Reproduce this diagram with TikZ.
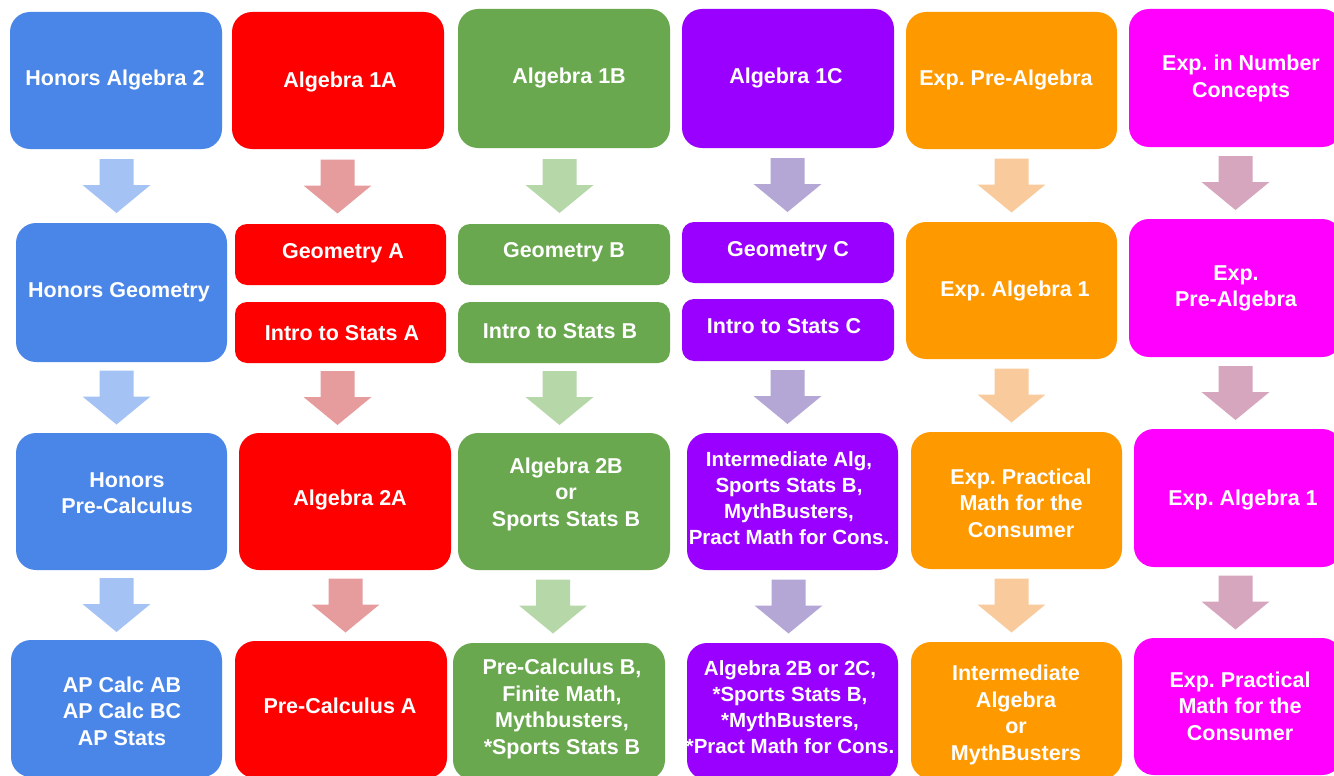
\documentclass[tikz,border=0pt]{standalone}
\usepackage{fontspec}
\setmainfont{Liberation Sans}
\usetikzlibrary{calc}
\frenchspacing
\definecolor{cblue}{HTML}{4A86E8}\definecolor{ablue}{HTML}{A4C2F4}
\definecolor{cred}{HTML}{FF0000}\definecolor{ared}{HTML}{E69C9C}
\definecolor{cgreen}{HTML}{6AA84F}\definecolor{agreen}{HTML}{B6D7A8}
\definecolor{cpurple}{HTML}{9900FF}\definecolor{apurple}{HTML}{B4A7D6}
\definecolor{corange}{HTML}{FF9900}\definecolor{aorange}{HTML}{F9CB9C}
\definecolor{cmag}{HTML}{FF00FF}\definecolor{amag}{HTML}{D5A6BD}
\tikzset{
  cbox/.style={rectangle, inner sep=0pt, draw=none},
  txt/.style={text=white, inner sep=0pt, align=center, font=\bfseries\frenchspacing\fontsize{21.5}{26.5}\selectfont},
  sl/.style={txt, text depth=0pt},
  txs/.style={txt, font=\bfseries\frenchspacing\fontsize{20.5}{26}\selectfont},
}
\newcommand\bx[7]{\node[cbox, fill=#6, rounded corners=#7, minimum width={#4-#2}, minimum height={#5-#3}] (#1) at ({(#2+#4)/2},{(#3+#5)/2}) {};}
\newcommand\barrow[4]{\path ($(#2.south)!0.5!(#3.north)$) ++(#1,0) coordinate (m);
  \fill[#4] (m) ++(-17,-27) -- ++(34,0) -- ++(0,26) -- ++(17,0) -- ++(-34,28) -- ++(-34,-28) -- ++(17,0) -- cycle;}
\begin{document}
\begin{tikzpicture}[x=1pt,y=-1pt]
\useasboundingbox (0,0) rectangle (1334,776);
\clip (0,0) rectangle (1334,776);
\fill[white] (0,0) rectangle (1334,776);
% column 1
\bx{b11}{10}{12}{222}{149}{cblue}{20pt}
\bx{b12}{16}{223}{227}{362}{cblue}{20pt}
\bx{b13}{16}{433}{227}{570}{cblue}{20pt}
\bx{b14}{11}{640}{222}{777}{cblue}{20pt}
\node[sl] (t11) at (115,78) {Honors Algebra 2};
\node[sl] (t12) at (119,290) {Honors Geometry};
\node[txt] (t13) at (127,493) {Honors\\Pre-Calculus};
\node[txt] (t14) at (122,711) {AP Calc AB\\AP Calc BC\\AP Stats};
\barrow{-2.25}{b11}{b12}{ablue}
\barrow{-5}{b12}{b13}{ablue}
\barrow{-2.5}{b13}{b14}{ablue}
% column 2
\bx{b21}{232}{12}{444}{149}{cred}{20pt}
\bx{b22}{235}{224}{446}{285}{cred}{12pt}
\bx{b22b}{235}{302}{446}{363}{cred}{12pt}
\bx{b23}{239}{433}{451}{570}{cred}{20pt}
\bx{b24}{235}{641}{447}{778}{cred}{20pt}
\node[sl] (t21) at (340,80) {Algebra 1A};
\node[sl] (t22) at (343,251) {Geometry A};
\node[sl] (t22b) at (342,333) {Intro to Stats A};
\node[sl] (t23) at (350,498) {Algebra 2A};
\node[sl] (t24) at (340,706) {Pre-Calculus A};
\barrow{-1.75}{b21}{b22}{ared}
\barrow{-5.25}{b22b}{b23}{ared}
\barrow{2.5}{b23}{b24}{ared}
% column 3
\bx{b31}{458}{9}{670}{148}{cgreen}{20pt}
\bx{b32}{458}{224}{670}{285}{cgreen}{12pt}
\bx{b32b}{458}{302}{670}{363}{cgreen}{12pt}
\bx{b33}{458}{433}{670}{570}{cgreen}{20pt}
\bx{b34}{453}{643}{665}{780}{cgreen}{20pt}
\node[sl] (t31) at (569,76) {Algebra 1B};
\node[sl] (t32) at (564,250) {Geometry B};
\node[sl] (t32b) at (560,331) {Intro to Stats B};
\node[txt] (t33) at (566,494) {Algebra 2B\\or\\Sports Stats B};
\node[txt] (t34) at (562,709) {Pre-Calculus B,\\Finite Math,\\Mythbusters,\\*Sports Stats B};
\barrow{-4.5}{b31}{b32}{agreen}
\barrow{-4.5}{b32b}{b33}{agreen}
\barrow{-8.5}{b33}{b34}{agreen}
% column 4
\bx{b41}{682}{9}{894}{148}{cpurple}{20pt}
\bx{b42}{682}{222}{894}{283}{cpurple}{12pt}
\bx{b42b}{682}{299}{894}{361}{cpurple}{12pt}
\bx{b43}{687}{433}{898}{570}{cpurple}{20pt}
\bx{b44}{687}{643}{898}{780}{cpurple}{20pt}
\node[sl] (t41) at (786,76) {Algebra 1C};
\node[sl] (t42) at (788,249) {Geometry C};
\node[sl] (t42b) at (784,326) {Intro to Stats C};
\node[txs] (t43) at (789,498) {Intermediate Alg,\\Sports Stats B,\\MythBusters,\\Pract Math for Cons.};
\node[txs] (t44) at (790,707) {Algebra 2B or 2C,\\*Sports Stats B,\\*MythBusters,\\*Pract Math for Cons.};
\barrow{-0.5}{b41}{b42}{apurple}
\barrow{-2.75}{b42b}{b43}{apurple}
\barrow{-4}{b43}{b44}{apurple}
% column 5
\bx{b51}{906}{12}{1117}{149}{corange}{20pt}
\bx{b52}{906}{222}{1117}{359}{corange}{20pt}
\bx{b53}{911}{432}{1122}{569}{corange}{20pt}
\bx{b54}{911}{642}{1122}{779}{corange}{20pt}
\node[sl] (t51) at (1006,78) {Exp. Pre-Algebra};
\node[sl] (t52) at (1015,289) {Exp. Algebra 1};
\node[txt] (t53) at (1021,503) {Exp. Practical\\Math for the\\Consumer};
\node[txt] (t54) at (1016,715) {Intermediate\\Algebra\\or\\MythBusters};
\barrow{0}{b51}{b52}{aorange}
\barrow{-2.5}{b52}{b53}{aorange}
\barrow{-5}{b53}{b54}{aorange}
% column 6
\bx{b61}{1129}{9}{1342}{147}{cmag}{20pt}
\bx{b62}{1129}{219}{1342}{357}{cmag}{20pt}
\bx{b63}{1134}{429}{1342}{567}{cmag}{20pt}
\bx{b64}{1134}{638}{1342}{775}{cmag}{20pt}
\node[txt] (t61) at (1241,78.5) {Exp. in Number\\Concepts};
\node[txt] (t62) at (1236,288.5) {Exp.\\Pre-Algebra};
\node[sl] (t63) at (1243,498) {Exp. Algebra 1};
\node[txt] (t64) at (1240,706) {Exp. Practical\\Math for the\\Consumer};
\barrow{0}{b61}{b62}{amag}
\barrow{-1.25}{b62}{b63}{amag}
\barrow{-2.5}{b63}{b64}{amag}
\end{tikzpicture}
\end{document}
